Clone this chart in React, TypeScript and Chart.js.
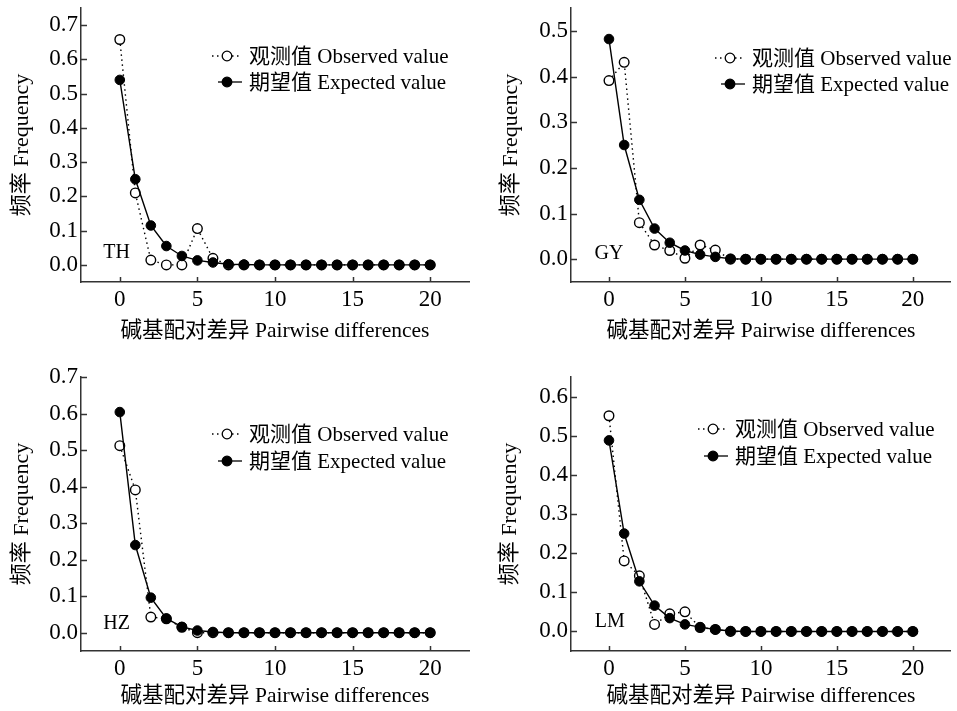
import React, { useEffect, useRef } from "react";
import { Chart, registerables } from "chart.js";

Chart.register(...registerables);

// ---------- data ----------
const differences = [0, 1, 2, 3, 4, 5, 6, 7, 8, 9, 10, 11, 12, 13, 14, 15, 16, 17, 18, 19, 20];
const xTicks = [0, 5, 10, 15, 20];

const thObserved = [0.658, 0.21, 0.014, 0.0, 0.0, 0.106, 0.019, 0, 0, 0, 0, 0, 0, 0, 0, 0, 0, 0, 0, 0, 0];
const thExpected = [0.54, 0.25, 0.115, 0.055, 0.026, 0.013, 0.007, 0.002, 0.001, 0, 0, 0, 0, 0, 0, 0, 0, 0, 0, 0, 0];
const gyObserved = [0.391, 0.431, 0.08, 0.031, 0.019, 0.002, 0.031, 0.02, 0, 0, 0, 0, 0, 0, 0, 0, 0, 0, 0, 0, 0];
const gyExpected = [0.482, 0.25, 0.13, 0.067, 0.036, 0.019, 0.01, 0.005, 0.001, 0, 0, 0, 0, 0, 0, 0, 0, 0, 0, 0, 0];
const hzObserved = [0.512, 0.391, 0.043, 0.038, 0.015, 0.0, 0, 0, 0, 0, 0, 0, 0, 0, 0, 0, 0, 0, 0, 0, 0];
const hzExpected = [0.604, 0.24, 0.096, 0.039, 0.016, 0.006, 0.002, 0, 0, 0, 0, 0, 0, 0, 0, 0, 0, 0, 0, 0, 0];
const lmObserved = [0.551, 0.18, 0.142, 0.018, 0.045, 0.05, 0.01, 0.005, 0, 0, 0, 0, 0, 0, 0, 0, 0, 0, 0, 0, 0];
const lmExpected = [0.488, 0.25, 0.128, 0.066, 0.034, 0.018, 0.011, 0.005, 0.001, 0, 0, 0, 0, 0, 0, 0, 0, 0, 0, 0, 0];

const thYTicks = [0, 0.1, 0.2, 0.3, 0.4, 0.5, 0.6, 0.7];
const gyYTicks = [0, 0.1, 0.2, 0.3, 0.4, 0.5];
const hzYTicks = [0, 0.1, 0.2, 0.3, 0.4, 0.5, 0.6, 0.7];
const lmYTicks = [0, 0.1, 0.2, 0.3, 0.4, 0.5, 0.6];

const observedLabel = "观测值 Observed value";
const expectedLabel = "期望值 Expected value";
const xTitle = "碱基配对差异 Pairwise differences";
const yTitle = "频率 Frequency";

// ---------- style ----------
const FONT = "'Liberation Serif', 'Times New Roman', 'Noto Sans CJK SC', serif";
const AXIS_COLOR = "#333";

type Panel = {
  site: string;
  observed: number[];
  expected: number[];
  yTicks: number[];
  yMin: number;
  yMax: number;
  left: number;
  top: number;
  width: number;
  height: number;
  padTop: number;
  padRight: number;
  yWidth: number;
  xHeight: number;
  yTitlePad: number;
  xTitlePad: number;
  legendDx: number;
  legendDy: number;
  legendGap: number;
  siteAt: number[];
};

const panels: Panel[] = [
  {
    site: "TH", observed: thObserved, expected: thExpected, yTicks: thYTicks, yMin: -0.05, yMax: 0.75,
    left: 0, top: 0, width: 478, height: 355, padTop: 8, padRight: 9, yWidth: 81, xHeight: 73,
    yTitlePad: 9, xTitlePad: 11, legendDx: 146, legendDy: 48, legendGap: 26, siteAt: [-0.2, 0.036],
  },
  {
    site: "GY", observed: gyObserved, expected: gyExpected, yTicks: gyYTicks, yMin: -0.05, yMax: 0.55,
    left: 478, top: 0, width: 479, height: 355, padTop: 8, padRight: 1, yWidth: 93, xHeight: 73,
    yTitlePad: 20, xTitlePad: 11, legendDx: 159, legendDy: 50, legendGap: 26, siteAt: [0, 0.012],
  },
  {
    site: "HZ", observed: hzObserved, expected: hzExpected, yTicks: hzYTicks, yMin: -0.05, yMax: 0.7,
    left: 0, top: 355, width: 478, height: 356, padTop: 22, padRight: 9, yWidth: 81, xHeight: 60,
    yTitlePad: 9, xTitlePad: 2, legendDx: 146, legendDy: 57, legendGap: 27, siteAt: [-0.2, 0.024],
  },
  {
    site: "LM", observed: lmObserved, expected: lmExpected, yTicks: lmYTicks, yMin: -0.05, yMax: 0.65,
    left: 478, top: 355, width: 479, height: 356, padTop: 22, padRight: 1, yWidth: 93, xHeight: 60,
    yTitlePad: 19, xTitlePad: 2, legendDx: 142, legendDy: 52, legendGap: 27, siteAt: [0.05, 0.024],
  },
];

const decorPlugin = {
  id: "panelDecor",
  afterDraw(chart: any, _args: any, opts: any) {
    const { ctx, chartArea, scales } = chart;
    const xs = scales.x;
    const ys = scales.y;
    ctx.save();
    // inward tick marks
    ctx.strokeStyle = AXIS_COLOR;
    ctx.lineWidth = 1.5;
    ctx.setLineDash([]);
    for (const t of opts.yTicks) {
      const py = Math.round(ys.getPixelForValue(t)) + 0.5;
      ctx.beginPath();
      ctx.moveTo(chartArea.left, py);
      ctx.lineTo(chartArea.left + 6, py);
      ctx.stroke();
    }
    for (const t of xTicks) {
      const px = Math.round(xs.getPixelForValue(t)) + 0.5;
      ctx.beginPath();
      ctx.moveTo(px, chartArea.bottom);
      ctx.lineTo(px, chartArea.bottom - 5);
      ctx.stroke();
    }
    // site label
    ctx.fillStyle = "#000";
    ctx.font = "20px " + FONT;
    ctx.textAlign = "center";
    ctx.textBaseline = "middle";
    ctx.fillText(opts.site, xs.getPixelForValue(opts.siteAt[0]), ys.getPixelForValue(opts.siteAt[1]));

    // legend
    const mx = chartArea.left + opts.legendDx;
    const r1 = chartArea.top + opts.legendDy;
    const r2 = r1 + opts.legendGap;
    ctx.strokeStyle = "#000";
    ctx.lineWidth = 1.3;
    // observed row
    ctx.setLineDash([1.5, 3.5]);
    ctx.beginPath();
    ctx.moveTo(mx - 15, r1);
    ctx.lineTo(mx + 15, r1);
    ctx.stroke();
    ctx.setLineDash([]);
    ctx.beginPath();
    ctx.arc(mx, r1, 4.8, 0, Math.PI * 2);
    ctx.fillStyle = "#fff";
    ctx.fill();
    ctx.stroke();
    // expected row
    ctx.beginPath();
    ctx.moveTo(mx - 9, r2);
    ctx.lineTo(mx + 15, r2);
    ctx.stroke();
    ctx.beginPath();
    ctx.arc(mx, r2, 4.8, 0, Math.PI * 2);
    ctx.fillStyle = "#000";
    ctx.fill();
    ctx.stroke();
    ctx.fillStyle = "#000";
    ctx.font = "21px " + FONT;
    ctx.textAlign = "left";
    ctx.textBaseline = "middle";
    ctx.fillText(observedLabel, mx + 22, r1 + 1);
    ctx.fillText(expectedLabel, mx + 22, r2 + 1);
    ctx.restore();
  },
};

function PanelChart({ p }: { p: Panel }) {
  const ref = useRef<HTMLCanvasElement | null>(null);
  useEffect(() => {
    if (!ref.current) return;
    const toPoints = (vals: number[]) => differences.map((d, i) => ({ x: d, y: vals[i] }));
    const chart = new Chart(ref.current, {
      type: "line",
      data: {
        datasets: [
          {
            label: expectedLabel,
            data: toPoints(p.expected),
            order: 1,
            borderColor: "#000",
            borderWidth: 1.4,
            pointRadius: 4.8,
            pointBackgroundColor: "#000",
            pointBorderColor: "#000",
            pointBorderWidth: 1,
            tension: 0,
            clip: false as any,
          },
          {
            label: observedLabel,
            data: toPoints(p.observed),
            order: 2,
            borderColor: "#000",
            borderWidth: 1.4,
            borderDash: [1.5, 3.5],
            pointRadius: 4.8,
            pointBackgroundColor: "#fff",
            pointBorderColor: "#000",
            pointBorderWidth: 1.4,
            tension: 0,
            clip: false as any,
          },
        ],
      },
      options: {
        animation: false,
        responsive: false,
        devicePixelRatio: 1,
        layout: { padding: { top: p.padTop, right: p.padRight, left: 0, bottom: 0 } },
        plugins: {
          legend: { display: false },
          tooltip: { enabled: false },
          panelDecor: {
            yTicks: p.yTicks, site: p.site, siteAt: p.siteAt,
            legendDx: p.legendDx, legendDy: p.legendDy, legendGap: p.legendGap,
          },
        } as any,
        scales: {
          x: {
            type: "linear",
            min: -2.5,
            max: 22.5,
            grid: { display: false, drawTicks: false },
            border: { display: true, color: AXIS_COLOR, width: 1.5 },
            afterBuildTicks: (s: any) => {
              s.ticks = xTicks.map((v) => ({ value: v }));
            },
            afterFit: (s: any) => {
              s.height = p.xHeight;
              s.paddingLeft = 0;
              s.paddingRight = 0;
            },
            ticks: {
              color: "#000",
              font: { family: FONT, size: 23 },
              padding: 4,
              maxRotation: 0,
              autoSkip: false,
              callback: (v: any) => String(v),
            },
            title: {
              display: true,
              text: xTitle,
              color: "#000",
              font: { family: FONT, size: 21.5 },
              padding: { top: 0, bottom: p.xTitlePad },
            },
          },
          y: {
            type: "linear",
            min: p.yMin,
            max: p.yMax,
            grid: { display: false, drawTicks: false },
            border: { display: true, color: AXIS_COLOR, width: 1.5 },
            afterBuildTicks: (s: any) => {
              s.ticks = p.yTicks.map((v) => ({ value: v }));
            },
            afterFit: (s: any) => {
              s.width = p.yWidth;
              s.paddingTop = 0;
              s.paddingBottom = 0;
            },
            ticks: {
              color: "#000",
              font: { family: FONT, size: 23 },
              padding: 3,
              autoSkip: false,
              callback: (v: any) => Number(v).toFixed(1),
            },
            title: {
              display: true,
              text: yTitle,
              color: "#000",
              font: { family: FONT, size: 22 },
              padding: { top: p.yTitlePad, bottom: 0 },
            },
          },
        },
      } as any,
      plugins: [decorPlugin],
    });
    return () => chart.destroy();
  }, [p]);
  return (
    <canvas
      ref={ref}
      width={p.width}
      height={p.height}
      style={{ position: "absolute", left: p.left, top: p.top, width: p.width, height: p.height }}
    />
  );
}

export default function App() {
  return (
    <div style={{ position: "absolute", left: 0, top: 0, width: 957, height: 711, background: "#fff" }}>
      {panels.map((p) => (
        <PanelChart key={p.site} p={p} />
      ))}
    </div>
  );
}
